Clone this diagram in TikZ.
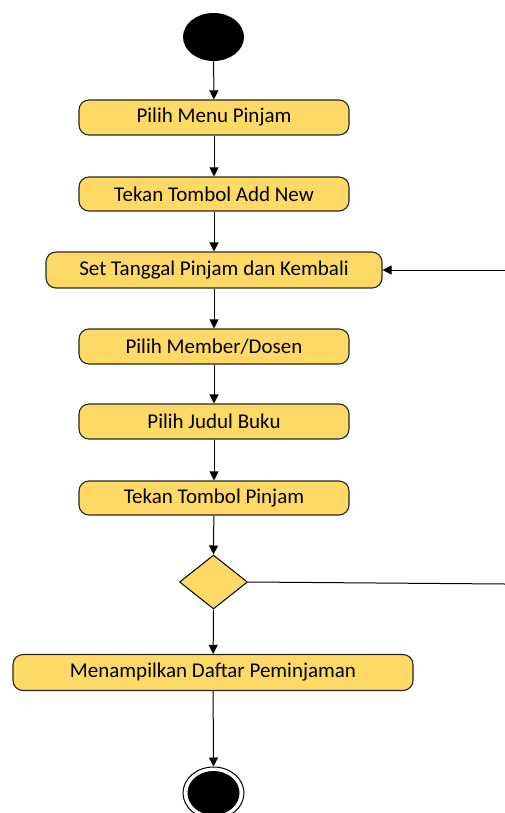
\documentclass[tikz,border=0pt]{standalone}
\usepackage{fontspec}
\setmainfont{Carlito}
\usetikzlibrary{shapes.geometric,arrows.meta}
\definecolor{boxfill}{HTML}{FFD966}
\tikzset{
  act/.style={draw=black!85,line width=1.1pt,fill=boxfill,rounded corners=10pt,font=\fontsize{21}{24}\selectfont,inner sep=0pt},
  conn/.style={draw=black,line width=1pt},
  arr/.style={conn,-{Triangle[length=9pt,width=9pt]}},
}
\begin{document}
\begin{tikzpicture}[x=1pt,y=-1pt]
\useasboundingbox (0,0) rectangle (505,813);
\node[ellipse,fill=black,minimum width=61pt,minimum height=48pt,inner sep=0pt] (start) at (213.5,37) {};
\node[act,minimum width=270pt,minimum height=35pt] (a1) at (214,117.5) {Pilih Menu Pinjam};
\node[act,minimum width=270pt,minimum height=34pt] (a2) at (214,194) {Tekan Tombol Add New};
\node[act,minimum width=336pt,minimum height=36pt] (a3) at (214,270) {Set Tanggal Pinjam dan Kembali};
\node[act,minimum width=270pt,minimum height=35pt] (a4) at (214,346.5) {Pilih Member/Dosen};
\node[act,minimum width=270pt,minimum height=35pt] (a5) at (214,421.5) {Pilih Judul Buku};
\node[act,minimum width=270pt,minimum height=34pt] (a6) at (214,498) {Tekan Tombol Pinjam};
\node[diamond,draw=black,line width=1pt,fill=boxfill,minimum width=68pt,minimum height=54pt,inner sep=0pt,aspect=1.26] (d) at (213.5,582) {};
\node[act,minimum width=400pt,minimum height=36pt] (a7) at (213,672.5) {Menampilkan Daftar Peminjaman};
\node[ellipse,draw=black,line width=1pt,fill=white,minimum width=61pt,minimum height=52pt,inner sep=0pt] (end) at (213.5,793) {};
\node[ellipse,fill=black,minimum width=52pt,minimum height=44pt,inner sep=0pt] (endin) at (end.center) {};
\coordinate (r1) at (505,270);
\coordinate (r2) at (505,584);
\draw[arr] (start) -- (a1);
\draw[arr] (a1) -- (a2);
\draw[arr] (a2) -- (a3);
\draw[arr] (a3) -- (a4);
\draw[arr] (a4) -- (a5);
\draw[arr] (a5) -- (a6);
\draw[arr] (a6) -- (d.north);
\draw[arr] (d.south) -- (a7);
\draw[arr] (a7) -- (end.north);
\draw[arr] (r1) -- (a3.east);
\draw[conn] (d.east) -- (r2);
\end{tikzpicture}
\end{document}
